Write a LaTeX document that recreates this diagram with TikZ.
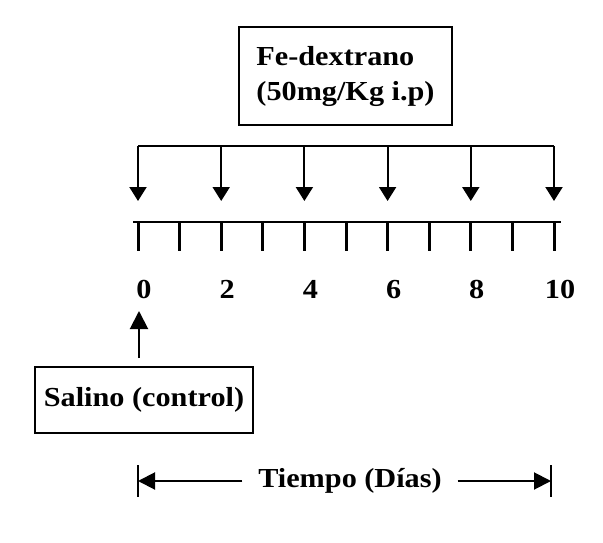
\documentclass[tikz,border=0pt]{standalone}
\usepackage{fontspec}
\setmainfont[FakeStretch=1.1]{Liberation Serif}
\usetikzlibrary{arrows.meta}
\begin{document}
\begin{tikzpicture}[x=1pt,y=-1pt,line width=2pt,
  lbl/.style={font=\fontsize{27.5}{35}\selectfont\bfseries},
  boxed/.style={draw,line width=1.6pt,lbl},
  tip/.style={-{Triangle[width=17pt,length=14pt]}},
  tick/.style={line width=3pt},
  bar/.style={line width=2.2pt}]
\useasboundingbox (0,0) rectangle (603,543);
% top box
\node[boxed,minimum width=213pt,minimum height=98pt,align=left] (fe) at (345.5,76) {Fe-dextrano\\(50mg/Kg i.p)};
% bracket line
\coordinate (bl) at (138,146);
\coordinate (br) at (554,146);
\draw (bl) -- (br);
% axis
\coordinate (al) at (133,222);
\coordinate (ar) at (561,222);
\draw[line width=2.5pt] (al) -- (ar);
\foreach \i in {0,...,10}{
  \coordinate (t\i) at ({138+41.6*\i},222);
  \coordinate (b\i) at ({138+41.6*\i},251);
  \draw[tick] (t\i) -- (b\i);
}
\foreach \i/\lab in {0/0,2/2,4/4,6/6,8/8,10/10}{
  \coordinate (s\i) at ({138+41.6*\i},146);
  \coordinate (e\i) at ({138+41.6*\i},201);
  \draw[tip] (s\i) -- (e\i);
  \node[lbl,anchor=base] (n\i) at ({144+41.6*\i},298) {\lab};
}
% salino
\node[boxed,minimum width=218pt,minimum height=66pt] (sal) at (144,400) {Salino (control)};
\coordinate (ua) at (139,358);
\coordinate (ub) at (139,311);
\draw[-{Triangle[width=18pt,length=18pt]}] (ua) -- (ub);
% time
\node[lbl,inner xsep=15pt] (ti) at (350,481) {Tiempo (Días)};
\coordinate (lt) at (138,465);
\coordinate (lb) at (138,497);
\coordinate (rt) at (551,465);
\coordinate (rb) at (551,497);
\coordinate (lm) at (138,481);
\coordinate (rm) at (551,481);
\draw[bar] (lt) -- (lb);
\draw[bar] (rt) -- (rb);
\draw[-{Triangle[width=17pt,length=17pt]}] (ti.west) -- (lm);
\draw[-{Triangle[width=17pt,length=17pt]}] (ti.east) -- (rm);
\end{tikzpicture}
\end{document}
